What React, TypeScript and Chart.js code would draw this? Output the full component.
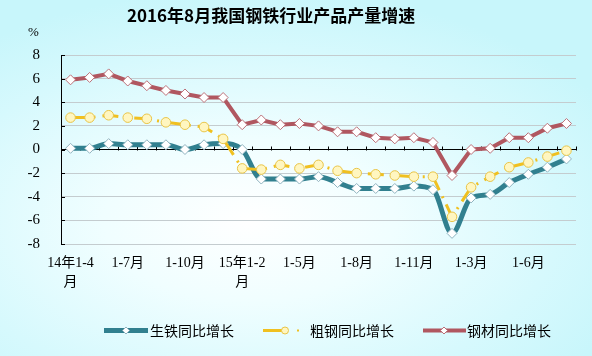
import React, { useEffect, useRef } from 'react';
import { Chart, registerables } from 'chart.js';

Chart.register(...registerables);

const chartTitle = '2016年8月我国钢铁行业产品产量增速';
const unitLabel = '%';

const categories = [
  '14年1-4月', '1-5月', '1-6月', '1-7月', '1-8月', '1-9月', '1-10月', '1-11月', '1-12月',
  '15年1-2月', '1-3月', '1-4月', '1-5月', '1-6月', '1-7月', '1-8月', '1-9月', '1-10月', '1-11月', '1-12月',
  '16年1-2月', '1-3月', '1-4月', '1-5月', '1-6月', '1-7月', '1-8月',
];

const seriesNames = ['生铁同比增长', '粗钢同比增长', '钢材同比增长'];

const pigIron = [0.1, 0.1, 0.5, 0.4, 0.4, 0.4, 0.0, 0.4, 0.5, 0.0, -2.5, -2.5, -2.5, -2.3, -2.8, -3.3, -3.3, -3.3, -3.1, -3.4, -7.1, -4.1, -3.8, -2.8, -2.1, -1.5, -0.8];
const crudeSteel = [2.7, 2.7, 2.9, 2.7, 2.6, 2.3, 2.1, 1.9, 0.9, -1.6, -1.7, -1.3, -1.6, -1.3, -1.8, -2.0, -2.1, -2.2, -2.3, -2.3, -5.7, -3.2, -2.3, -1.5, -1.1, -0.6, -0.1];
const steelProducts = [5.9, 6.1, 6.4, 5.8, 5.4, 5.0, 4.7, 4.4, 4.4, 2.1, 2.5, 2.1, 2.2, 2.0, 1.5, 1.5, 1.0, 0.9, 1.0, 0.6, -2.2, 0.0, 0.1, 1.0, 1.0, 1.8, 2.2];

const yMin = -8;
const yMax = 8;
const yStep = 2;
const labelEvery = 3;

const TEAL = '#31808f';
const TEAL_MARK = '#8fb3bf';
const GOLD = '#f0c020';
const GOLD_FILL = '#fff6c0';
const GOLD_MARK = '#e8c448';
const RED = '#b05760';
const RED_MARK = '#bb7078';

const CJK = '"Noto Sans CJK SC"';
const SERIF = '"Liberation Serif", "Noto Sans CJK SC"';

function diamond(ctx: CanvasRenderingContext2D, x: number, y: number, r: number, stroke: string) {
  ctx.beginPath();
  ctx.moveTo(x - r, y);
  ctx.lineTo(x, y - r);
  ctx.lineTo(x + r, y);
  ctx.lineTo(x, y + r);
  ctx.closePath();
  ctx.fillStyle = '#fff';
  ctx.fill();
  ctx.lineWidth = 1;
  ctx.strokeStyle = stroke;
  ctx.stroke();
}

const overlayPlugin = {
  id: 'overlay',
  beforeDatasetsDraw(chart: any) {
    const { ctx, chartArea: a, scales } = chart;
    const y = scales.y;
    const y0 = Math.round(y.getPixelForValue(0)) + 0.5;
    const w = (a.right - a.left) / categories.length;
    ctx.save();
    ctx.strokeStyle = '#000';
    ctx.lineWidth = 1;
    ctx.beginPath();
    for (let k = 1; k <= categories.length; k++) {
      const px = Math.round(a.left + k * w) + 0.5;
      ctx.moveTo(px, y0);
      ctx.lineTo(px, y0 - 4);
    }
    for (const t of y.ticks) {
      const py = Math.round(y.getPixelForValue(t.value)) + 0.5;
      ctx.moveTo(a.left, py);
      ctx.lineTo(a.left + 4, py);
    }
    ctx.stroke();
    ctx.restore();
  },
  afterDraw(chart: any) {
    const { ctx } = chart;
    ctx.save();
    ctx.fillStyle = '#000';
    ctx.textBaseline = 'middle';
    ctx.textAlign = 'left';
    ctx.font = `bold 17px ${CJK}`;
    ctx.fillText(chartTitle, 127, 16);
    ctx.font = `13px ${SERIF}`;
    ctx.fillText(unitLabel, 28, 33);

    const ly = 330.5;
    ctx.lineCap = 'butt';
    ctx.strokeStyle = TEAL;
    ctx.lineWidth = 5;
    ctx.beginPath();
    ctx.moveTo(104, ly);
    ctx.lineTo(148, ly);
    ctx.stroke();
    diamond(ctx, 126, ly, 3.5, TEAL_MARK);

    ctx.strokeStyle = GOLD;
    ctx.lineWidth = 3;
    ctx.beginPath();
    ctx.moveTo(263, ly);
    ctx.lineTo(283, ly);
    ctx.stroke();
    ctx.beginPath();
    ctx.arc(285, ly, 3.5, 0, Math.PI * 2);
    ctx.fillStyle = GOLD_FILL;
    ctx.fill();
    ctx.lineWidth = 1;
    ctx.strokeStyle = GOLD_MARK;
    ctx.stroke();
    ctx.fillStyle = GOLD;
    ctx.fillRect(297, ly - 1, 2, 2);

    ctx.strokeStyle = RED;
    ctx.lineWidth = 4;
    ctx.beginPath();
    ctx.moveTo(423, ly);
    ctx.lineTo(466, ly);
    ctx.stroke();
    diamond(ctx, 444, ly, 3.5, RED_MARK);

    ctx.fillStyle = '#000';
    ctx.font = `14px ${CJK}`;
    ctx.fillText(seriesNames[0], 150, ly);
    ctx.fillText(seriesNames[1], 310, ly);
    ctx.fillText(seriesNames[2], 467, ly);
    ctx.restore();
  },
};

export default function App() {
  const ref = useRef<HTMLCanvasElement>(null);

  useEffect(() => {
    const canvas = ref.current;
    if (!canvas) return;
    const chart = new Chart(canvas, {
      type: 'line',
      data: {
        labels: categories,
        datasets: [
          {
            label: seriesNames[0],
            data: pigIron,
            borderColor: TEAL,
            backgroundColor: TEAL,
            borderWidth: 5,
            cubicInterpolationMode: 'monotone',
            pointStyle: 'rectRot',
            pointRadius: 5,
            pointBackgroundColor: '#ffffff',
            pointBorderColor: TEAL_MARK,
            pointBorderWidth: 1,
            order: 2,
          },
          {
            label: seriesNames[1],
            data: crudeSteel,
            borderColor: GOLD,
            backgroundColor: GOLD,
            borderWidth: 3,
            borderDash: [16, 7, 2, 7],
            tension: 0,
            pointStyle: 'circle',
            pointRadius: 4.8,
            pointBackgroundColor: GOLD_FILL,
            pointBorderColor: GOLD_MARK,
            pointBorderWidth: 1,
            order: 1,
          },
          {
            label: seriesNames[2],
            data: steelProducts,
            borderColor: RED,
            backgroundColor: RED,
            borderWidth: 4,
            tension: 0,
            pointStyle: 'rectRot',
            pointRadius: 5,
            pointBackgroundColor: '#ffffff',
            pointBorderColor: RED_MARK,
            pointBorderWidth: 1,
            order: 3,
          },
        ],
      },
      options: {
        responsive: false,
        animation: false,
        events: [],
        layout: { padding: { top: 55, right: 16, left: 0, bottom: 0 } },
        plugins: {
          legend: { display: false },
          title: { display: false },
          tooltip: { enabled: false },
        },
        scales: {
          x: {
            offset: true,
            grid: { display: false, drawTicks: false, offset: true },
            border: { display: false },
            afterFit: (scale: any) => {
              scale.height = 112;
            },
            ticks: {
              autoSkip: false,
              maxRotation: 0,
              minRotation: 0,
              padding: 10,
              color: '#000',
              font: { family: SERIF, size: 14, lineHeight: 1.35 },
              callback: (_v: any, i: number) => {
                if (i % labelEvery !== 0) return '';
                const s = categories[i];
                if (s.includes('年')) return [s.slice(0, -1), s.slice(-1)];
                return s;
              },
            },
          },
          y: {
            min: yMin,
            max: yMax,
            afterFit: (scale: any) => {
              scale.width = 61;
            },
            grid: {
              drawTicks: false,
              color: (c: any) => (c.tick && c.tick.value === 0 ? '#000000' : '#c4cccf'),
              lineWidth: 1,
            },
            border: { display: true, color: '#000', width: 1 },
            ticks: {
              stepSize: yStep,
              padding: 21,
              color: '#000',
              font: { family: SERIF, size: 15 },
            },
          },
        },
      },
      plugins: [overlayPlugin],
    } as any);
    return () => chart.destroy();
  }, []);

  return (
    <div
      style={{
        position: 'fixed',
        left: 0,
        top: 0,
        width: 592,
        height: 356,
        background:
          'radial-gradient(ellipse 70% 65% at 42% 62%, #ffffff 0%, #f0feff 35%, #d6f9fd 75%, #c8f6fb 100%)',
      }}
    >
      <canvas ref={ref} width={592} height={356} style={{ display: 'block' }} />
    </div>
  );
}
